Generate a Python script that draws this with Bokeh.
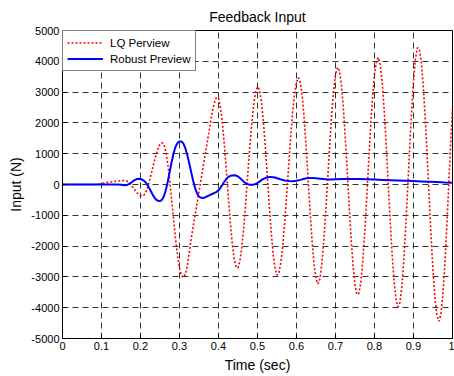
from bokeh.plotting import figure
from bokeh.models import FixedTicker, Legend, LegendItem
from bokeh.embed import file_html
from bokeh.resources import INLINE

# ---------------- data ----------------
x_ticks = [0, 0.1, 0.2, 0.3, 0.4, 0.5, 0.6, 0.7, 0.8, 0.9, 1]
x_tick_labels = ["0", "0.1", "0.2", "0.3", "0.4", "0.5", "0.6", "0.7", "0.8", "0.9", "1"]
y_ticks = [-5000, -4000, -3000, -2000, -1000, 0, 1000, 2000, 3000, 4000, 5000]
y_tick_labels = ["-5000", "-4000", "-3000", "-2000", "-1000", "0", "1000", "2000", "3000", "4000", "5000"]

# LQ Perview (red dotted)
lq_time = [0, 0.05, 0.08, 0.09, 0.10, 0.11, 0.12, 0.13, 0.14, 0.15,
           0.155, 0.16, 0.165, 0.17, 0.175, 0.18, 0.185, 0.19, 0.195, 0.2,
           0.205, 0.21, 0.215, 0.22, 0.225, 0.23, 0.235, 0.24, 0.245, 0.25,
           0.255, 0.26, 0.265, 0.27, 0.275, 0.28, 0.285, 0.29, 0.295, 0.3,
           0.305, 0.31, 0.315, 0.32, 0.325, 0.33, 0.335, 0.34, 0.345, 0.35,
           0.355, 0.36, 0.365, 0.37, 0.375, 0.38, 0.385, 0.39, 0.395, 0.4,
           0.405, 0.41, 0.415, 0.42, 0.425, 0.43, 0.435, 0.44, 0.445, 0.45,
           0.455, 0.46, 0.465, 0.47, 0.475, 0.48, 0.485, 0.49, 0.495, 0.5,
           0.505, 0.51, 0.515, 0.52, 0.525, 0.53, 0.535, 0.54, 0.545, 0.55,
           0.555, 0.56, 0.565, 0.57, 0.575, 0.58, 0.585, 0.59, 0.595, 0.6,
           0.605, 0.61, 0.615, 0.62, 0.625, 0.63, 0.635, 0.64, 0.645, 0.65,
           0.655, 0.66, 0.665, 0.67, 0.675, 0.68, 0.685, 0.69, 0.695, 0.7,
           0.705, 0.71, 0.715, 0.72, 0.725, 0.73, 0.735, 0.74, 0.745, 0.75,
           0.755, 0.76, 0.765, 0.77, 0.775, 0.78, 0.785, 0.79, 0.795, 0.8,
           0.805, 0.81, 0.815, 0.82, 0.825, 0.83, 0.835, 0.84, 0.845, 0.85,
           0.855, 0.86, 0.865, 0.87, 0.875, 0.88, 0.885, 0.89, 0.895, 0.9,
           0.905, 0.91, 0.915, 0.92, 0.925, 0.93, 0.935, 0.94, 0.945, 0.95,
           0.955, 0.96, 0.965, 0.97, 0.975, 0.98, 0.985, 0.99, 0.995, 1.0]
lq_input = [0, 0, 0, 10, 30, 55, 75, 95, 110, 125,
            130, 130, 114, 69, 0, -84, -173, -255, -320, -360,
            -370, -329, -211, -26, 207, 468, 732, 972, 1169, 1302,
            1360, 1299, 1056, 648, 112, -506, -1154, -1774, -2306, -2718,
            -2959, -3020, -2920, -2640, -2220, -1750, -1370, -990, -610, -230,
            150, 530, 910, 1290, 1670, 2050, 2420, 2680, 2830, 2793,
            2509, 1993, 1297, 481, -374, -1184, -1886, -2396, -2683, -2709,
            -2479, -2015, -1356, -555, 311, 1171, 1948, 2574, 2997, 3174,
            3085, 2705, 2067, 1243, 308, -648, -1528, -2248, -2735, -2944,
            -2863, -2520, -1945, -1185, -299, 632, 1531, 2324, 2937, 3335,
            3470, 3306, 2830, 2090, 1155, 120, -915, -1850, -2590, -3066,
            -3230, -3065, -2575, -1829, -882, 181, 1254, 2233, 3032, 3574,
            3803, 3699, 3254, 2513, 1546, 446, -688, -1748, -2633, -3263,
            -3574, -3538, -3159, -2468, -1536, -435, 729, 1853, 2827, 3577,
            4018, 4127, 3866, 3266, 2382, 1279, 75, -1129, -2232, -3116,
            -3716, -3972, -3853, -3346, -2501, -1399, -144, 1149, 2358, 3367,
            4086, 4440, 4399, 3980, 3209, 2171, 928, -381, -1660, -2787,
            -3678, -4244, -4440, -4232, -3622, -2671, -1460, -102, 1284, 2510]

# Robust Preview (blue solid)
robust_time = [0, 0.1, 0.14, 0.15, 0.16,
               0.165, 0.17, 0.175, 0.18, 0.185, 0.19, 0.195, 0.2, 0.205, 0.21,
               0.215, 0.22, 0.225, 0.23, 0.235, 0.24, 0.245, 0.25, 0.255, 0.26,
               0.265, 0.27, 0.275, 0.28, 0.285, 0.29, 0.295, 0.3, 0.305, 0.31,
               0.315, 0.32, 0.325, 0.33, 0.335, 0.34, 0.345, 0.35, 0.355, 0.36,
               0.365, 0.37, 0.375, 0.38, 0.385, 0.39, 0.395, 0.4, 0.405, 0.41,
               0.415, 0.42, 0.425, 0.43, 0.435, 0.44, 0.445, 0.45, 0.455, 0.46,
               0.465, 0.47, 0.475, 0.48, 0.485, 0.49, 0.495, 0.5, 0.505, 0.51,
               0.515, 0.52, 0.525, 0.53, 0.535, 0.54, 0.545, 0.55, 0.555, 0.56,
               0.57, 0.58, 0.59, 0.6, 0.61, 0.62, 0.63, 0.64, 0.65, 0.66,
               0.67, 0.68, 0.69, 0.7, 0.72, 0.74, 0.76, 0.78, 0.8, 0.82,
               0.84, 0.86, 0.88, 0.9, 0.92, 0.94, 0.96, 0.98, 1.0]
robust_input = [0, 0, 0, -10, -25,
                -20, 10, 50, 100, 145, 175, 185, 180, 155, 110,
                40, -60, -180, -300, -410, -490, -530, -540, -500, -380,
                -180, 100, 420, 740, 1020, 1230, 1350, 1400, 1400, 1330,
                1180, 960, 690, 400, 120, -120, -290, -390, -430, -440,
                -420, -390, -360, -330, -300, -270, -240, -190, -110, -10,
                90, 180, 240, 280, 295, 300, 290, 260, 210, 150,
                90, 40, 10, -5, -10, -5, 15, 50, 95, 140,
                180, 210, 230, 240, 240, 235, 225, 205, 185, 165,
                130, 110, 105, 120, 150, 185, 210, 215, 205, 190,
                175, 165, 165, 170, 180, 180, 175, 168, 160, 150,
                140, 130, 120, 110, 100, 90, 80, 65, 55]

FONT = "Liberation Sans"

p = figure(width=454, height=376, x_range=(0, 1), y_range=(-5000, 5000),
           output_backend="svg", toolbar_location=None,
           min_border_left=62, min_border_right=2, min_border_top=30, min_border_bottom=38,
           title="Feedback Input")
p.background_fill_color = "white"
p.border_fill_color = "white"
p.outline_line_color = "black"
p.outline_line_width = 1

p.title.align = "center"
p.title.text_font = FONT
p.title.text_font_size = "14px"
p.title.text_font_style = "normal"
p.title.text_color = "black"
p.title.standoff = 12

for ax in (p.xaxis[0], p.yaxis[0]):
    ax.axis_label_text_font = FONT
    ax.axis_label_text_font_size = "14px"
    ax.axis_label_text_font_style = "normal"
    ax.axis_label_text_color = "black"
    ax.major_label_text_font = FONT
    ax.major_label_text_font_size = "11px"
    ax.major_label_text_color = "black"
    ax.axis_line_color = "black"
    ax.major_tick_line_color = "black"
    ax.major_tick_in = 4
    ax.major_tick_out = 0
    ax.minor_tick_line_color = None
    ax.major_label_standoff = 3
    ax.axis_label_standoff = 4

p.xaxis.ticker = FixedTicker(ticks=x_ticks)
p.xaxis.major_label_overrides = dict(zip(x_ticks, x_tick_labels))
p.xaxis.axis_label = "Time (sec)"
p.yaxis.ticker = FixedTicker(ticks=y_ticks)
p.yaxis.major_label_overrides = dict(zip(y_ticks, y_tick_labels))
p.yaxis.axis_label = "Input (N)"

for g in (p.xgrid[0], p.ygrid[0]):
    g.grid_line_color = "black"
    g.grid_line_alpha = 0.8
    g.grid_line_dash = "6 4"
    g.grid_line_width = 1

r_lq = p.line(lq_time, lq_input, line_color="#ff0000", line_width=1.6, line_dash="2 2")
r_rb = p.line(robust_time, robust_input, line_color="#0000ff", line_width=2)

legend = Legend(items=[LegendItem(label="LQ Perview", renderers=[r_lq]),
                       LegendItem(label="Robust Preview", renderers=[r_rb])],
                location="top_left", margin=0, padding=4, spacing=1,
                glyph_width=36, glyph_height=15, label_standoff=7, label_height=15,
                border_line_color="black", border_line_width=1,
                background_fill_color="white", background_fill_alpha=1.0,
                label_text_font=FONT, label_text_font_size="11.5px", label_text_color="black")
p.add_layout(legend)

open("out.html", "w").write(file_html(p, INLINE))
